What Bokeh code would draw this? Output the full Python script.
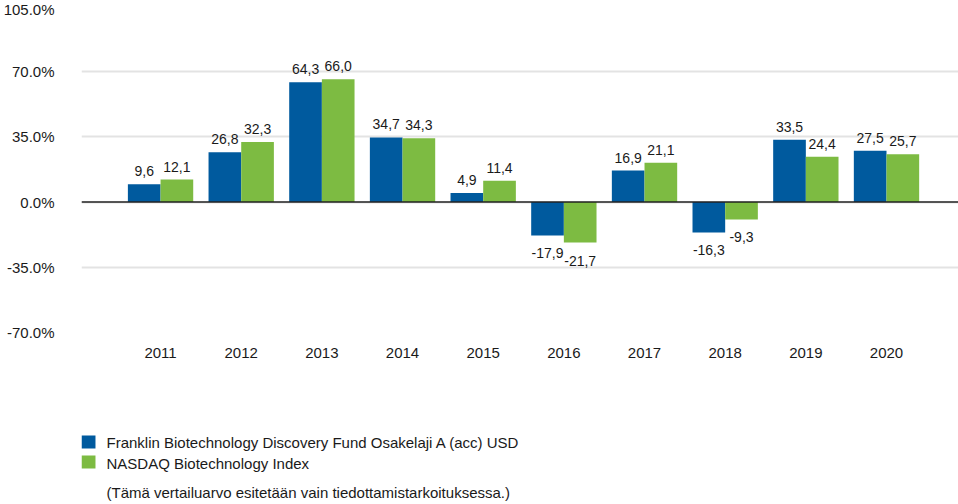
from bokeh.plotting import figure
from bokeh.models import ColumnDataSource, Range1d, FixedTicker, Span
from bokeh.layouts import column
from bokeh.core.properties import value
from bokeh.embed import file_html
from bokeh.resources import INLINE

years = ["2011", "2012", "2013", "2014", "2015", "2016", "2017", "2018", "2019", "2020"]
fund = [9.6, 26.8, 64.3, 34.7, 4.9, -17.9, 16.9, -16.3, 33.5, 27.5]
index = [12.1, 32.3, 66.0, 34.3, 11.4, -21.7, 21.1, -9.3, 24.4, 25.7]
y_ticks = [-70, -35, 0, 35, 70, 105]
y_tick_labels = ["-70.0%", "-35.0%", "0.0%", "35.0%", "70.0%", "105.0%"]
series_names = ["Franklin Biotechnology Discovery Fund Osakelaji A (acc) USD",
                "NASDAQ Biotechnology Index"]
note = "(Tämä vertailuarvo esitetään vain tiedottamistarkoituksessa.)"

BLUE = "#005A9E"
GREEN = "#7DBB42"
FONT = "Liberation Sans"
TXT = "#1a1a1a"

p = figure(frame_width=878, frame_height=326, output_backend="svg", toolbar_location=None,
           x_range=Range1d(-0.98, 9.905), y_range=Range1d(-70, 105),
           min_border_left=80, min_border_right=0, min_border_top=6, min_border_bottom=28)
p.outline_line_color = None
p.background_fill_color = "white"
p.border_fill_color = "white"

xs = list(range(len(years)))
off = 0.2025
w = 0.405

def fmt(v):
    return f"{v:.1f}".replace(".", ",")

for vals, color, sign in [(fund, BLUE, -1), (index, GREEN, 1)]:
    src = ColumnDataSource(dict(
        x=[i + sign * off for i in xs],
        top=vals,
        lab=[fmt(v) for v in vals],
        yo=[-13 if v >= 0 else 18 for v in vals],
    ))
    p.vbar(x="x", top="top", bottom=0, width=w, source=src,
           fill_color=color, line_color=None)
    p.text(x="x", y="top", text="lab", y_offset="yo", source=src,
           text_align="center", text_baseline="middle",
           text_font=value(FONT), text_font_size="14px", text_color=TXT)

p.add_layout(Span(location=0, dimension="width", line_color="#222222", line_width=1.5))

p.xaxis.ticker = FixedTicker(ticks=xs)
p.xaxis.major_label_overrides = {i: y for i, y in zip(xs, years)}
p.yaxis.ticker = FixedTicker(ticks=y_ticks)
p.yaxis.major_label_overrides = {t: l for t, l in zip(y_ticks, y_tick_labels)}
for ax in (p.xaxis, p.yaxis):
    ax.axis_line_color = None
    ax.major_tick_line_color = None
    ax.minor_tick_line_color = None
    ax.major_label_text_font = FONT
    ax.major_label_text_font_size = "15px"
    ax.major_label_text_color = TXT
p.xaxis.major_label_standoff = 9
p.yaxis.major_label_standoff = 21

p.xgrid.grid_line_color = None
p.ygrid.grid_line_color = "#e3e3e3"
p.ygrid.grid_line_width = 2

# Legend panel (its frame is aligned with the main frame: screen x 80..958)
lg = figure(width=958, height=144, output_backend="svg", toolbar_location=None,
            x_range=Range1d(80, 958), y_range=Range1d(144, 0),
            x_axis_location=None, y_axis_location=None,
            min_border=0, min_border_left=80, min_border_right=0,
            min_border_top=0, min_border_bottom=0)
lg.outline_line_color = None
lg.grid.visible = False

lsrc = ColumnDataSource(dict(
    x=[87, 87], y=[81.5, 101.5], c=[BLUE, GREEN],
    tx=[105, 105], ty=[81.7, 102.7], t=series_names,
))
lg.rect(x="x", y="y", width=14, height=13, fill_color="c", line_color=None, source=lsrc)
lg.text(x="tx", y="ty", text="t", source=lsrc, text_align="left", text_baseline="middle",
        text_font=value(FONT), text_font_size="15px", text_color=TXT)
lg.text(x=[105], y=[131.7], text=[note], text_align="left", text_baseline="middle",
        text_font=value(FONT), text_font_size="15px", text_color=TXT)

layout = column(p, lg, spacing=0)
open("out.html", "w").write(file_html(layout, INLINE))
